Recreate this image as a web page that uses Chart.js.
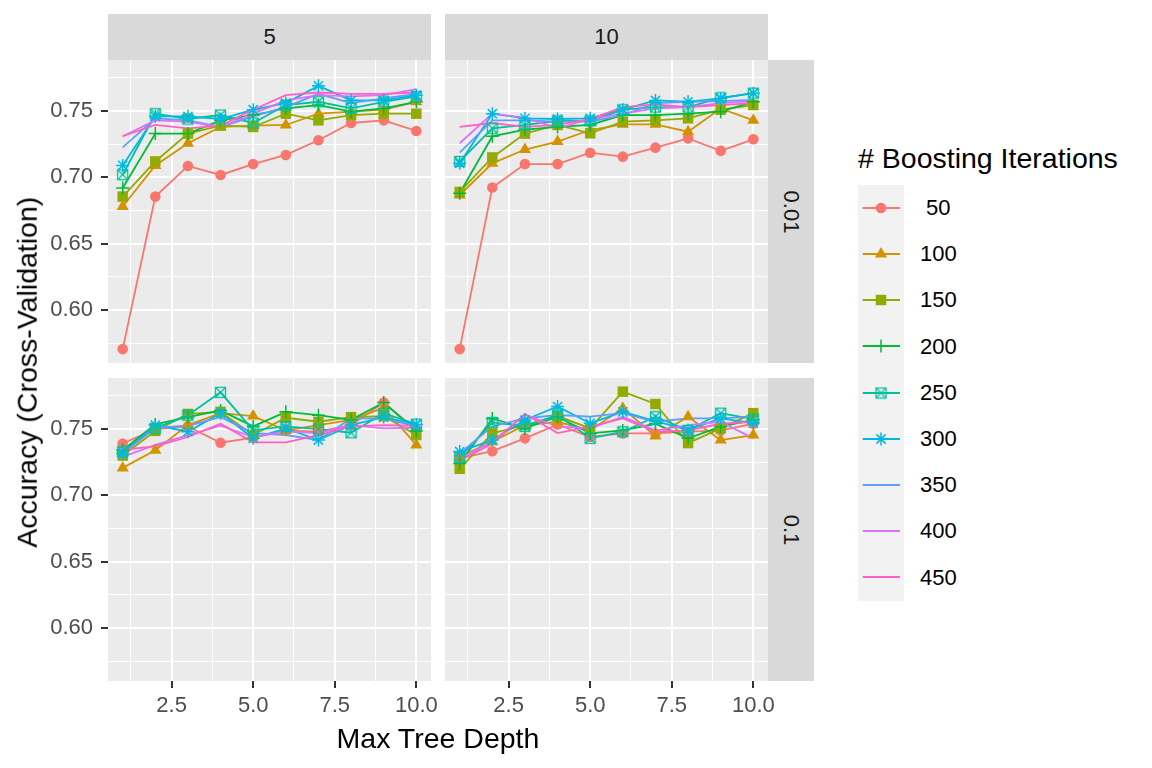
<!DOCTYPE html>
<html>
<head>
<meta charset="utf-8">
<script src="https://cdn.jsdelivr.net/npm/chart.js@4.4.1/dist/chart.umd.min.js"></script>
<style>
  body { margin:0; width:1152px; height:768px; background:#fff; position:relative; overflow:hidden;
         font-family:'Liberation Sans', Arial, sans-serif; }
  canvas { position:absolute; }
  .strip { position:absolute; background:#D9D9D9; color:#1A1A1A; font-size:22px;
           display:flex; align-items:center; justify-content:center; }
  .strip.side span { display:inline-block; transform:rotate(90deg); white-space:nowrap; }
  .title { position:absolute; font-size:28.5px; line-height:28.5px; height:28.5px; color:#000; white-space:nowrap; }
  .lab { position:absolute; font-size:22px; line-height:22px; color:#000; white-space:pre; }
</style>
</head>
<body>

<div class="strip" style="left:108px;top:14px;width:323px;height:46px" id="stripC0"></div>
<div class="strip" style="left:445px;top:14px;width:323px;height:46px" id="stripC1"></div>
<div class="strip side" style="left:768px;top:60px;width:46px;height:303px"><span id="stripR0"></span></div>
<div class="strip side" style="left:768px;top:378px;width:46px;height:303px"><span id="stripR1"></span></div>

<canvas id="p00" width="431" height="303" style="left:0;top:60px"></canvas>
<canvas id="p01" width="323" height="303" style="left:445px;top:60px"></canvas>
<canvas id="p10" width="471" height="363" style="left:0;top:378px"></canvas>
<canvas id="p11" width="363" height="363" style="left:445px;top:378px"></canvas>

<div class="title" style="left:0;top:723.5px;width:876px;text-align:center">Max Tree Depth</div>
<div class="title" style="left:-222.7px;top:358.25px;width:500px;text-align:center;transform:rotate(-90deg)">Accuracy (Cross-Validation)</div>
<div class="title" style="left:858px;top:143.5px"># Boosting Iterations</div>
<div style="position:absolute;left:858px;top:185px;width:46px;height:416px;background:#F2F2F2"></div>
<div id="legend"></div>

<script>
const depths = [1, 2, 3, 4, 5, 6, 7, 8, 9, 10];
const iterLabels = [" 50", "100", "150", "200", "250", "300", "350", "400", "450"];
const colors = ["#F8766D", "#D39200", "#93AA00", "#00BA38", "#00C19F", "#00B9E3", "#619CFF", "#DB72FB", "#FF61C3"];
const shapes = ["circle", "triangle", "rect", "cross", "boxcross", "star", null, null, null];
const colLabels = ["5", "10"];
const rowLabels = ["0.01", "0.1"];
const xMajor = [2.5, 5.0, 7.5, 10.0];
const yMajor = [0.60, 0.65, 0.70, 0.75];

// one row per iteration count (50 ... 450), one value per tree depth
const acc5_001 = [
  [0.5705, 0.6855, 0.7086, 0.7018, 0.7100, 0.7169, 0.7280, 0.7410, 0.7430, 0.7350],
  [0.6780, 0.7090, 0.7257, 0.7380, 0.7390, 0.7395, 0.7480, 0.7495, 0.7510, 0.7570],
  [0.6855, 0.7120, 0.7330, 0.7390, 0.7380, 0.7480, 0.7430, 0.7470, 0.7480, 0.7480],
  [0.6920, 0.7330, 0.7330, 0.7430, 0.7470, 0.7520, 0.7545, 0.7495, 0.7520, 0.7570],
  [0.7020, 0.7480, 0.7440, 0.7470, 0.7410, 0.7545, 0.7570, 0.7520, 0.7570, 0.7610],
  [0.7090, 0.7460, 0.7460, 0.7440, 0.7510, 0.7560, 0.7690, 0.7580, 0.7580, 0.7620],
  [0.7226, 0.7445, 0.7430, 0.7380, 0.7460, 0.7530, 0.7630, 0.7560, 0.7595, 0.7630],
  [0.7310, 0.7430, 0.7420, 0.7380, 0.7480, 0.7580, 0.7620, 0.7610, 0.7620, 0.7665],
  [0.7310, 0.7395, 0.7370, 0.7390, 0.7510, 0.7620, 0.7640, 0.7630, 0.7630, 0.7640]
];
const acc10_001 = [
  [0.5705, 0.6923, 0.7100, 0.7100, 0.7186, 0.7156, 0.7224, 0.7294, 0.7200, 0.7287],
  [0.6867, 0.7106, 0.7210, 0.7270, 0.7357, 0.7400, 0.7400, 0.7344, 0.7520, 0.7430],
  [0.6890, 0.7150, 0.7330, 0.7395, 0.7332, 0.7420, 0.7430, 0.7445, 0.7510, 0.7545],
  [0.6880, 0.7310, 0.7360, 0.7380, 0.7395, 0.7470, 0.7470, 0.7480, 0.7495, 0.7570],
  [0.7120, 0.7370, 0.7395, 0.7425, 0.7425, 0.7510, 0.7530, 0.7530, 0.7600, 0.7635],
  [0.7106, 0.7480, 0.7445, 0.7440, 0.7445, 0.7510, 0.7580, 0.7570, 0.7595, 0.7635],
  [0.7186, 0.7430, 0.7430, 0.7420, 0.7420, 0.7470, 0.7560, 0.7570, 0.7575, 0.7585],
  [0.7257, 0.7480, 0.7450, 0.7370, 0.7440, 0.7480, 0.7520, 0.7530, 0.7560, 0.7575],
  [0.7380, 0.7410, 0.7380, 0.7395, 0.7440, 0.7530, 0.7550, 0.7530, 0.7545, 0.7560]
];
const acc5_01 = [
  [0.7390, 0.7500, 0.7520, 0.7397, 0.7435, 0.7490, 0.7480, 0.7530, 0.7700, 0.7494],
  [0.7207, 0.7340, 0.7530, 0.7620, 0.7598, 0.7490, 0.7530, 0.7570, 0.7660, 0.7380],
  [0.7300, 0.7486, 0.7614, 0.7630, 0.7455, 0.7585, 0.7555, 0.7590, 0.7597, 0.7455],
  [0.7340, 0.7535, 0.7590, 0.7640, 0.7520, 0.7630, 0.7605, 0.7570, 0.7700, 0.7485],
  [0.7330, 0.7505, 0.7605, 0.7777, 0.7490, 0.7520, 0.7500, 0.7472, 0.7620, 0.7537],
  [0.7316, 0.7530, 0.7480, 0.7620, 0.7430, 0.7505, 0.7417, 0.7530, 0.7590, 0.7535],
  [0.7316, 0.7510, 0.7525, 0.7590, 0.7470, 0.7455, 0.7417, 0.7580, 0.7580, 0.7520],
  [0.7290, 0.7380, 0.7455, 0.7525, 0.7440, 0.7480, 0.7470, 0.7530, 0.7505, 0.7510],
  [0.7345, 0.7370, 0.7440, 0.7540, 0.7400, 0.7400, 0.7455, 0.7520, 0.7530, 0.7525]
];
const acc10_01 = [
  [0.7278, 0.7333, 0.7430, 0.7535, 0.7440, 0.7467, 0.7467, 0.7480, 0.7490, 0.7540],
  [0.7290, 0.7405, 0.7530, 0.7555, 0.7490, 0.7656, 0.7447, 0.7593, 0.7417, 0.7455],
  [0.7200, 0.7467, 0.7530, 0.7598, 0.7505, 0.7782, 0.7689, 0.7394, 0.7505, 0.7620],
  [0.7240, 0.7580, 0.7505, 0.7593, 0.7467, 0.7490, 0.7540, 0.7430, 0.7518, 0.7570],
  [0.7285, 0.7550, 0.7520, 0.7606, 0.7430, 0.7480, 0.7593, 0.7490, 0.7620, 0.7575],
  [0.7330, 0.7417, 0.7568, 0.7670, 0.7543, 0.7630, 0.7560, 0.7493, 0.7580, 0.7545],
  [0.7316, 0.7520, 0.7580, 0.7606, 0.7593, 0.7620, 0.7555, 0.7580, 0.7580, 0.7593],
  [0.7280, 0.7405, 0.7606, 0.7520, 0.7505, 0.7593, 0.7490, 0.7530, 0.7555, 0.7430],
  [0.7265, 0.7390, 0.7614, 0.7470, 0.7518, 0.7580, 0.7480, 0.7490, 0.7540, 0.7555]
];

const FONT = "'Liberation Sans', Arial, sans-serif";
const pointSizes = { circle: 5.3, triangle: 7, rect: 7.4, cross: 6.5, boxcross: 6, star: 6.5 };
const stroked = { cross: true, boxcross: true, star: true };

function isIn(v, list) {
  return list.some(m => Math.abs(v - m) < 1e-6);
}

function boxCross(color) {
  const c = document.createElement("canvas");
  c.width = 13; c.height = 13;
  const g = c.getContext("2d");
  g.strokeStyle = color;
  g.lineWidth = 1.3;
  g.strokeRect(1.5, 1.5, 10, 10);
  g.beginPath();
  g.moveTo(1.5, 1.5); g.lineTo(11.5, 11.5);
  g.moveTo(11.5, 1.5); g.lineTo(1.5, 11.5);
  g.stroke();
  return c;
}

function styleFor(i) {
  return shapes[i] === "boxcross" ? boxCross(colors[i]) : shapes[i];
}

const panelBg = {
  id: "panelBg",
  beforeDraw(chart) {
    const a = chart.chartArea, c = chart.ctx;
    c.save();
    c.fillStyle = "#EBEBEB";
    c.fillRect(a.left, a.top, a.right - a.left, a.bottom - a.top);
    c.restore();
  }
};

function makeDatasets(rows) {
  const ds = [];
  rows.forEach((vals, i) => {
    const pts = depths.map((d, k) => ({ x: d, y: vals[k] }));
    ds.push({
      data: pts, borderColor: colors[i], borderWidth: 1.8, pointRadius: 0,
      tension: 0, fill: false, order: 100 + (rows.length - 1 - i)
    });
    if (shapes[i]) {
      ds.push({
        data: pts, showLine: false, pointStyle: styleFor(i),
        pointRadius: pointSizes[shapes[i]],
        pointBackgroundColor: colors[i], pointBorderColor: colors[i],
        pointBorderWidth: stroked[shapes[i]] ? 1.5 : 0,
        order: rows.length - 1 - i
      });
    }
  });
  return ds;
}

function makePanel(id, rows, showX, showY) {
  new Chart(document.getElementById(id), {
    type: "line",
    data: { datasets: makeDatasets(rows) },
    plugins: [panelBg],
    options: {
      responsive: false,
      animation: false,
      events: [],
      layout: { autoPadding: false, padding: { left: 0, top: 0, bottom: 0, right: showX ? 40 : 0 } },
      plugins: { legend: { display: false }, tooltip: { enabled: false } },
      scales: {
        x: {
          type: "linear", min: 0.55, max: 10.45,
          border: { display: false },
          grid: {
            color: "#FFFFFF",
            lineWidth: c => isIn(c.tick.value, xMajor) ? 2 : 1,
            drawTicks: showX, tickLength: 7, tickWidth: 2,
            tickColor: c => isIn(c.tick.value, xMajor) ? "#333333" : "rgba(0,0,0,0)"
          },
          ticks: {
            display: showX, stepSize: 1.25, includeBounds: false, autoSkip: false,
            maxRotation: 0, minRotation: 0, padding: 5, color: "#4D4D4D",
            font: { family: FONT, size: 22 },
            callback: v => isIn(v, xMajor) ? v.toFixed(1) : ""
          },
          afterFit: s => { s.height = showX ? 60 : 0; s.paddingLeft = 0; s.paddingRight = 0; }
        },
        y: {
          type: "linear", min: 0.560, max: 0.7885,
          border: { display: false },
          grid: {
            color: "#FFFFFF",
            lineWidth: c => isIn(c.tick.value, yMajor) ? 2 : 1,
            drawTicks: showY, tickLength: 7, tickWidth: 2,
            tickColor: c => isIn(c.tick.value, yMajor) ? "#333333" : "rgba(0,0,0,0)"
          },
          ticks: {
            display: showY, stepSize: 0.025, includeBounds: false, autoSkip: false,
            padding: 8, color: "#4D4D4D",
            font: { family: FONT, size: 22 },
            callback: v => isIn(v, yMajor) ? v.toFixed(2) : ""
          },
          afterFit: s => { s.width = showY ? 108 : 0; s.paddingTop = 0; s.paddingBottom = 0; }
        }
      }
    }
  });
}

makePanel("p00", acc5_001, false, true);
makePanel("p01", acc10_001, false, false);
makePanel("p10", acc5_01, true, true);
makePanel("p11", acc10_01, true, false);

document.getElementById("stripC0").textContent = colLabels[0];
document.getElementById("stripC1").textContent = colLabels[1];
document.getElementById("stripR0").textContent = rowLabels[0];
document.getElementById("stripR1").textContent = rowLabels[1];

// legend
function drawKey(g, i) {
  const cx = 23, cy = 23, col = colors[i];
  g.strokeStyle = col; g.fillStyle = col; g.lineWidth = 1.8;
  g.beginPath(); g.moveTo(4.7, cy); g.lineTo(42, cy); g.stroke();
  const s = shapes[i];
  if (!s) return;
  const r = pointSizes[s];
  g.lineWidth = 1.5;
  g.beginPath();
  if (s === "circle") {
    g.arc(cx, cy, r, 0, Math.PI * 2); g.fill();
  } else if (s === "triangle") {
    for (let k = 0; k < 3; k++) {
      const a = k * 2 * Math.PI / 3;
      const px = cx + Math.sin(a) * r, py = cy - Math.cos(a) * r;
      k ? g.lineTo(px, py) : g.moveTo(px, py);
    }
    g.closePath(); g.fill();
  } else if (s === "rect") {
    const h = r * Math.SQRT1_2; g.rect(cx - h, cy - h, 2 * h, 2 * h); g.fill();
  } else if (s === "cross") {
    g.moveTo(cx - r, cy); g.lineTo(cx + r, cy); g.moveTo(cx, cy - r); g.lineTo(cx, cy + r); g.stroke();
  } else if (s === "star") {
    g.moveTo(cx - r, cy); g.lineTo(cx + r, cy); g.moveTo(cx, cy - r); g.lineTo(cx, cy + r);
    const d = r * Math.SQRT1_2;
    g.moveTo(cx - d, cy - d); g.lineTo(cx + d, cy + d); g.moveTo(cx + d, cy - d); g.lineTo(cx - d, cy + d);
    g.stroke();
  } else if (s === "boxcross") {
    const img = boxCross(col); g.drawImage(img, cx - img.width / 2, cy - img.height / 2);
  }
}

const legendEl = document.getElementById("legend");
iterLabels.forEach((lab, i) => {
  const rowY = 207.7 + 46.2 * i;
  const cv = document.createElement("canvas");
  cv.width = 46; cv.height = 46;
  cv.style.left = "858px"; cv.style.top = (rowY - 23) + "px";
  legendEl.appendChild(cv);
  drawKey(cv.getContext("2d"), i);
  const t = document.createElement("div");
  t.className = "lab";
  t.style.left = "920px"; t.style.top = (rowY - 10.75) + "px";
  t.textContent = lab;
  legendEl.appendChild(t);
});
</script>
</body>
</html>
